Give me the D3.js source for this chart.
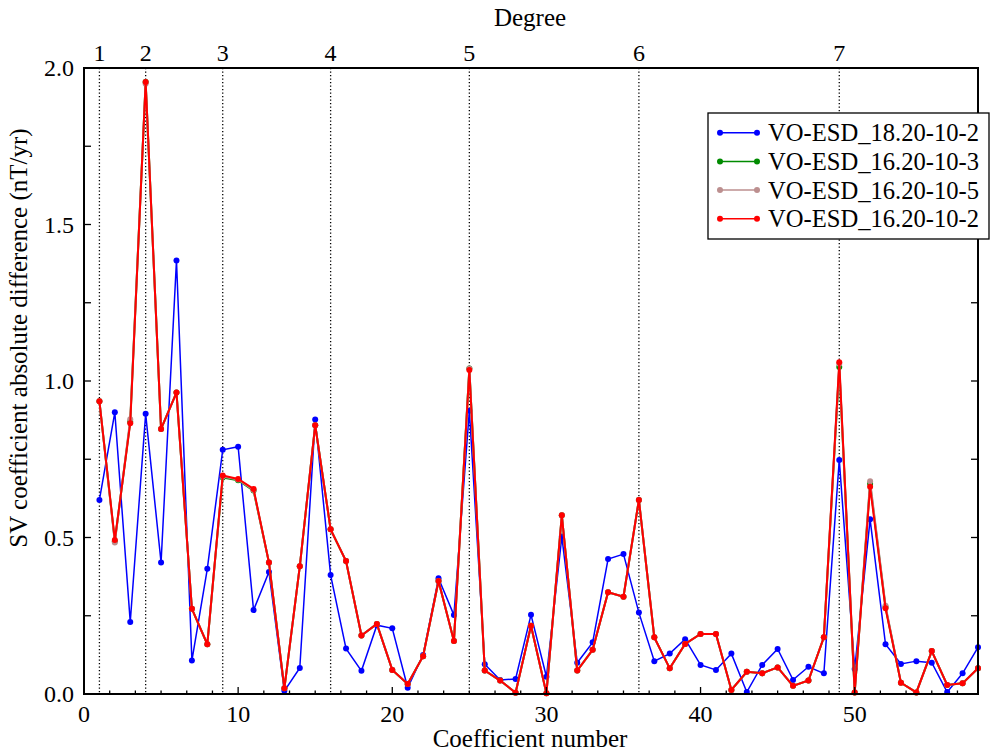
<!DOCTYPE html>
<html><head><meta charset="utf-8">
<script src="https://cdn.jsdelivr.net/npm/d3@7"></script>
<style>body{margin:0;background:#fff}svg{display:block}</style>
</head><body><svg id="c" width="1000" height="755"></svg>
<script>
const coeffNumber = d3.range(1, 59);
const degreeLabels = ["1","2","3","4","5","6","7"];
const degreeStarts = [1,4,9,16,25,36,49];
const seriesNames = ["VO-ESD_18.20-10-2","VO-ESD_16.20-10-3","VO-ESD_16.20-10-5","VO-ESD_16.20-10-2"];
const seriesColors = ["#0000ff","#008b00","#bc8f8f","#ff0000"];
const vo18_2 = [0.62,0.90,0.23,0.895,0.42,1.385,0.107,0.40,0.78,0.79,0.268,0.39,0.01,0.083,0.877,0.38,0.145,0.074,0.22,0.21,0.02,0.125,0.37,0.252,0.905,0.095,0.045,0.048,0.253,0.055,0.503,0.10,0.165,0.431,0.447,0.26,0.105,0.129,0.175,0.093,0.077,0.129,0.006,0.093,0.144,0.045,0.087,0.066,0.748,0.08,0.558,0.159,0.096,0.105,0.10,0.006,0.066,0.149];
const vo16_3 = [0.935,0.488,0.87,1.955,0.847,0.963,0.272,0.159,0.692,0.683,0.65,0.42,0.018,0.408,0.859,0.526,0.425,0.187,0.224,0.077,0.032,0.121,0.361,0.169,1.04,0.075,0.043,0.004,0.218,0.002,0.571,0.075,0.141,0.325,0.311,0.62,0.181,0.082,0.16,0.192,0.192,0.013,0.071,0.066,0.085,0.026,0.043,0.181,1.045,0.005,0.672,0.278,0.036,0.005,0.137,0.029,0.034,0.082];
const vo16_5 = [0.935,0.484,0.878,1.95,0.847,0.963,0.272,0.159,0.695,0.685,0.652,0.42,0.018,0.408,0.859,0.526,0.425,0.187,0.224,0.077,0.032,0.121,0.361,0.169,1.04,0.075,0.043,0.004,0.218,0.002,0.571,0.075,0.141,0.325,0.311,0.62,0.181,0.082,0.16,0.192,0.192,0.013,0.071,0.066,0.085,0.026,0.043,0.181,1.055,0.005,0.68,0.282,0.036,0.005,0.137,0.029,0.034,0.082];
const vo16_2 = [0.935,0.492,0.865,1.955,0.847,0.963,0.272,0.159,0.698,0.687,0.655,0.42,0.018,0.408,0.859,0.526,0.425,0.187,0.224,0.077,0.032,0.121,0.361,0.169,1.035,0.075,0.043,0.004,0.218,0.002,0.571,0.075,0.141,0.325,0.311,0.62,0.181,0.082,0.16,0.192,0.192,0.013,0.071,0.066,0.085,0.026,0.043,0.181,1.06,0.005,0.662,0.274,0.036,0.005,0.137,0.029,0.034,0.082];
const xMajorTicks = [0,10,20,30,40,50];
const yTickLabels = ["0.0","0.5","1.0","1.5","2.0"];
const yTicks = [0,0.5,1.0,1.5,2.0];
const yMinorTicks = [0.25,0.75,1.25,1.75];

const seriesValues = [vo18_2, vo16_3, vo16_5, vo16_2];
const L=84, R=978, T=68, B=694;
const svg = d3.select("#c");
const x = d3.scaleLinear().domain([0,58]).range([L,R]);
const y = d3.scaleLinear().domain([0,2]).range([B,T]);
const txt = (sel)=>sel.style("font-family",'"Liberation Serif"').attr("fill","#000");

// degree separators
svg.append("g").selectAll("line").data(degreeStarts).join("line")
  .attr("x1",d=>x(d)).attr("x2",d=>x(d)).attr("y1",T).attr("y2",B)
  .attr("stroke","#000").attr("stroke-width",1.3).attr("stroke-dasharray","1.3,2.2");

// series
const line = d3.line().x((d,i)=>x(coeffNumber[i])).y(d=>y(d));
seriesValues.forEach((vals,k)=>{
  const g = svg.append("g");
  g.append("path").attr("d",line(vals)).attr("fill","none").attr("stroke",seriesColors[k]).attr("stroke-width",k===0?1.5:2);
  g.selectAll("circle").data(vals).join("circle").attr("cx",(d,i)=>x(coeffNumber[i])).attr("cy",d=>y(d)).attr("r",3).attr("fill",seriesColors[k]);
});

// frame
svg.append("rect").attr("x",L).attr("y",T).attr("width",R-L).attr("height",B-T).attr("fill","none").attr("stroke","#000").attr("stroke-width",2);

// x ticks
const xMinor = d3.range(0,58.01,10/6).filter(v=>Math.abs(v-Math.round(v/10)*10)>0.01);
svg.append("g").selectAll("line").data(xMajorTicks).join("line")
  .attr("x1",d=>x(d)).attr("x2",d=>x(d)).attr("y1",B).attr("y2",B-7).attr("stroke","#000").attr("stroke-width",1.3);
svg.append("g").selectAll("line").data(xMinor).join("line")
  .attr("x1",d=>x(d)).attr("x2",d=>x(d)).attr("y1",B).attr("y2",B-3.5).attr("stroke","#000").attr("stroke-width",1.3);
svg.append("g").selectAll("text").data(xMajorTicks).join("text").call(txt)
  .attr("x",d=>x(d)).attr("y",722).attr("text-anchor","middle").attr("font-size",24).text(d=>d);

// y ticks
[...yTicks,...yMinorTicks].forEach(v=>{
  svg.append("line").attr("x1",L).attr("x2",L+7).attr("y1",y(v)).attr("y2",y(v)).attr("stroke","#000").attr("stroke-width",1.3);
  svg.append("line").attr("x1",R).attr("x2",R-7).attr("y1",y(v)).attr("y2",y(v)).attr("stroke","#000").attr("stroke-width",1.3);
});
svg.append("g").selectAll("text").data(yTicks).join("text").call(txt)
  .attr("x",74).attr("y",d=>y(d)+8).attr("text-anchor","end").attr("font-size",24).text((d,i)=>yTickLabels[i]);

// top degree labels
svg.append("g").selectAll("text").data(degreeStarts).join("text").call(txt)
  .attr("x",d=>x(d)).attr("y",61).attr("text-anchor","middle").attr("font-size",24).text((d,i)=>degreeLabels[i]);
svg.append("text").call(txt).attr("x",530).attr("y",26).attr("text-anchor","middle").attr("font-size",25).text("Degree");

// axis titles
svg.append("text").call(txt).attr("x",530).attr("y",747).attr("text-anchor","middle").attr("font-size",25).text("Coefficient number");
svg.append("text").call(txt).attr("transform","translate(27,338) rotate(-90)").attr("text-anchor","middle").attr("font-size",25).text("SV coefficient absolute difference (nT/yr)");

// legend
const lg = svg.append("g");
lg.append("rect").attr("x",708).attr("y",113).attr("width",281).attr("height",126).attr("fill","#fff").attr("stroke","#000").attr("stroke-width",1.3);
seriesNames.forEach((nm,k)=>{
  const cy = 132.7 + k*28.7;
  lg.append("line").attr("x1",720).attr("x2",757).attr("y1",cy).attr("y2",cy).attr("stroke",seriesColors[k]).attr("stroke-width",1.5);
  [720,757].forEach(cx=>lg.append("circle").attr("cx",cx).attr("cy",cy).attr("r",3).attr("fill",seriesColors[k]));
  lg.append("text").call(txt).attr("x",768).attr("y",cy+8.5).attr("font-size",24.6).text(nm);
});
</script></body></html>
